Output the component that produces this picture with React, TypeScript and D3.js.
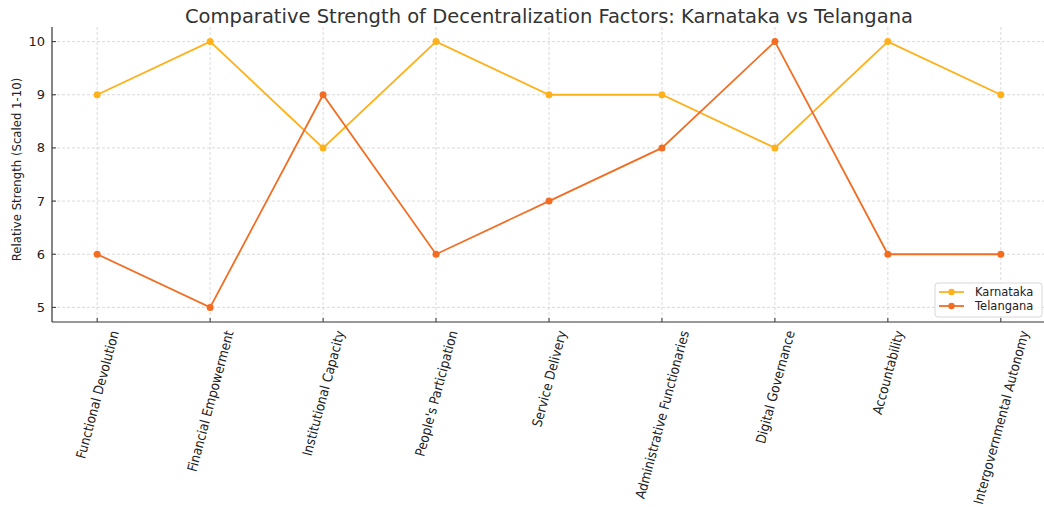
import React from "react";
import * as d3 from "d3";

const categories = [
  "Functional Devolution",
  "Financial Empowerment",
  "Institutional Capacity",
  "People's Participation",
  "Service Delivery",
  "Administrative Functionaries",
  "Digital Governance",
  "Accountability",
  "Intergovernmental Autonomy",
];
const karnataka = [9, 10, 8, 10, 9, 9, 8, 10, 9];
const telangana = [6, 5, 9, 6, 7, 8, 10, 6, 6];
const yTicks = [5, 6, 7, 8, 9, 10];

const W = 1044;
const H = 507;
const left = 52;
const right = 1046;
const top = 27;
const bottom = 322;

const KCOL = "#FFB11B";
const TCOL = "#F26D22";
const labelFont = "'DejaVu Sans Condensed', 'DejaVu Sans', sans-serif";

function measure(text: string, font: string): number {
  const c = document.createElement("canvas");
  const ctx = c.getContext("2d");
  if (!ctx) return text.length * 6.5;
  ctx.font = font;
  return ctx.measureText(text).width;
}

export default function App() {
  const x = d3.scaleLinear().domain([-0.4, 8.4]).range([left, right]);
  const y = d3.scaleLinear().domain([4.725, 10.275]).range([bottom, top]);
  const line = d3
    .line<number>()
    .x((_, i) => x(i))
    .y((d) => y(d));

  const series = [
    { name: "Karnataka", values: karnataka, color: KCOL },
    { name: "Telangana", values: telangana, color: TCOL },
  ];
  const cos75 = Math.cos((75 * Math.PI) / 180);
  const fs = 13.5;

  return (
    <svg
      width={W}
      height={H}
      style={{ position: "absolute", left: 0, top: 0, background: "#fff" }}
    >
      <rect width={W} height={H} fill="#fff" />
      {categories.map((_, i) => (
        <line
          key={"gx" + i}
          x1={x(i)}
          x2={x(i)}
          y1={top}
          y2={bottom}
          stroke="#d0d0d0"
          strokeWidth={0.8}
          strokeDasharray="3,2"
        />
      ))}
      {yTicks.map((t) => (
        <line
          key={"gy" + t}
          x1={left}
          x2={right}
          y1={y(t)}
          y2={y(t)}
          stroke="#d0d0d0"
          strokeWidth={0.8}
          strokeDasharray="3,2"
        />
      ))}
      <line x1={left} x2={left} y1={top} y2={bottom} stroke="#333" strokeWidth={1.2} />
      <line x1={left} x2={right} y1={bottom} y2={bottom} stroke="#333" strokeWidth={1.2} />
      {categories.map((_, i) => (
        <line key={"tx" + i} x1={x(i)} x2={x(i)} y1={bottom} y2={bottom - 4} stroke="#333" strokeWidth={1} />
      ))}
      {yTicks.map((t) => (
        <g key={"ty" + t}>
          <line x1={left} x2={left + 4} y1={y(t)} y2={y(t)} stroke="#333" strokeWidth={1} />
          <text
            x={left - 7}
            y={y(t)}
            textAnchor="end"
            dominantBaseline="central"
            fontFamily="'DejaVu Sans', sans-serif"
            fontSize={13}
            fill="#222"
          >
            {t}
          </text>
        </g>
      ))}
      {categories.map((c, i) => {
        const L = measure(c, `${fs}px ${labelFont}`);
        const xe = x(i) + (L * cos75) / 2;
        const ye = bottom + 7 + (fs / 2) * cos75;
        return (
          <text
            key={"xl" + i}
            transform={`translate(${xe},${ye}) rotate(-75)`}
            textAnchor="end"
            dominantBaseline="central"
            fontFamily={labelFont}
            fontSize={fs}
            fill="#222"
          >
            {c}
          </text>
        );
      })}
      <text
        transform={`translate(16,${(top + bottom) / 2 - 5}) rotate(-90)`}
        textAnchor="middle"
        dominantBaseline="central"
        fontFamily={labelFont}
        fontSize={13}
        fill="#222"
      >
        Relative Strength (Scaled 1-10)
      </text>
      <text
        x={549}
        y={16}
        textAnchor="middle"
        dominantBaseline="central"
        fontFamily="'DejaVu Sans', sans-serif"
        fontSize={19.5}
        fill="#333"
      >
        Comparative Strength of Decentralization Factors: Karnataka vs Telangana
      </text>
      {series.map((s) => (
        <g key={s.name}>
          <path d={line(s.values) || ""} fill="none" stroke={s.color} strokeWidth={1.8} />
          {s.values.map((v, i) => (
            <circle key={i} cx={x(i)} cy={y(v)} r={3.5} fill={s.color} />
          ))}
        </g>
      ))}
      <g>
        <rect x={935} y={283} width={107} height={34} rx={3} fill="#fff" fillOpacity={0.85} stroke="#d8d8d8" />
        {series.map((s, i) => {
          const cy = 292 + i * 14;
          return (
            <g key={"lg" + s.name}>
              <line x1={939} x2={964} y1={cy} y2={cy} stroke={s.color} strokeWidth={1.8} />
              <circle cx={951.5} cy={cy} r={3.2} fill={s.color} />
              <text
                x={975}
                y={cy}
                dominantBaseline="central"
                fontFamily="'DejaVu Sans', sans-serif"
                fontSize={11.5}
                fill="#222"
              >
                {s.name}
              </text>
            </g>
          );
        })}
      </g>
    </svg>
  );
}
